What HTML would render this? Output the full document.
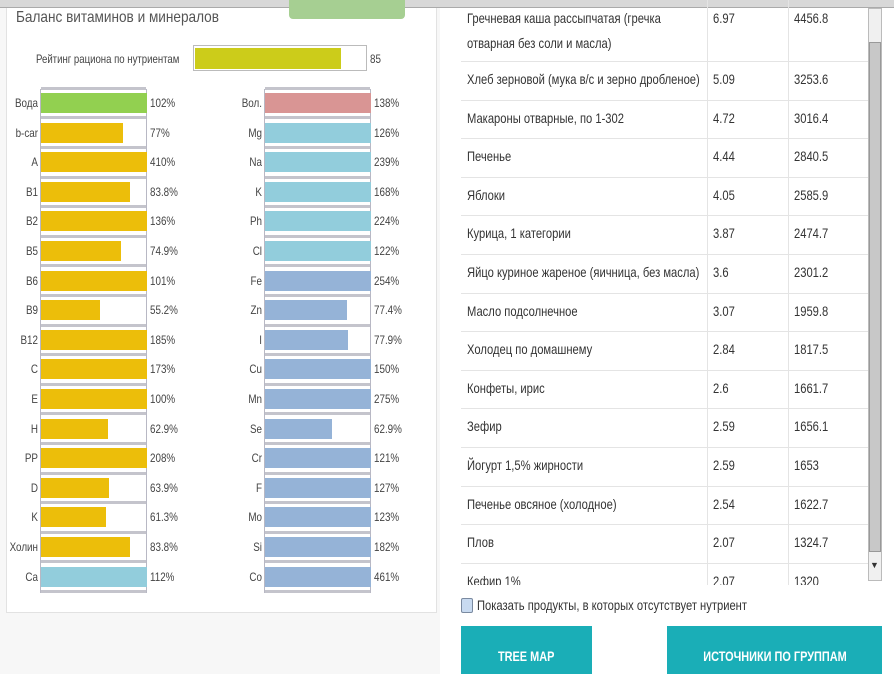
<!DOCTYPE html><html><head><meta charset="utf-8"><style>
*{margin:0;padding:0;box-sizing:border-box}
body{width:894px;height:674px;background:#fff;font-family:"Liberation Sans",sans-serif;color:#333;position:relative;overflow:hidden}
.a{position:absolute}
.lbl{position:absolute;font-size:12px;transform:scaleX(0.82);transform-origin:right;text-align:right;width:60px;color:#444}
.val{position:absolute;font-size:12px;transform:scaleX(0.82);transform-origin:left;color:#444}
.box{position:absolute;width:107px;border-left:1px solid #b8b8c4;border-right:1px solid #b8b8c4;background:#fff}
.sep{position:absolute;height:3px;background:#c4c4cc}
.fill{position:absolute;height:20px}
.td{position:absolute;font-size:14px;transform:scaleX(0.8);transform-origin:left;color:#333;white-space:nowrap}
.hl{position:absolute;left:461px;width:407px;height:1px;background:#e4e4e4}
</style></head><body>
<div class="a" style="left:0;top:0;width:440px;height:674px;background:#f7f7f7"></div>
<div class="a" style="left:6px;top:0;width:431px;height:613px;background:#fff;border:1px solid #e2e2e2"></div>
<div class="a" style="left:0;top:0;width:894px;height:8px;background:#d8d8d8;border-bottom:1px solid #aaa"></div>
<div class="a" style="left:289px;top:0;width:116px;height:19px;background:#a6cf92;border-radius:0 0 4px 4px"></div>
<div class="a" style="left:16px;top:9px;font-size:16px;transform:scaleX(0.85);transform-origin:left;color:#555;white-space:nowrap">Баланс витаминов и минералов</div>
<div class="a" style="left:36px;top:52px;font-size:12px;transform:scaleX(0.8);transform-origin:left;color:#444;white-space:nowrap">Рейтинг рациона по нутриентам</div>
<div class="a" style="left:193px;top:45px;width:174px;height:26px;border:1px solid #bbb;background:#fff"></div>
<div class="a" style="left:195px;top:48px;width:146px;height:21px;background:#cccc1a"></div>
<div class="a" style="left:370px;top:52px;font-size:12px;transform:scaleX(0.82);transform-origin:left;color:#444">85</div>
<div id="bars"></div>
<div class="hl" style="top:61px"></div>
<div id="tbl"></div>
<div class="a" style="left:707px;top:0;width:1px;height:585px;background:#e4e4e4"></div>
<div class="a" style="left:788px;top:0;width:1px;height:585px;background:#e4e4e4"></div>
<div class="a" style="left:868px;top:8px;width:14px;height:573px;background:#f0f0f0;border:1px solid #bbb"></div>
<div class="a" style="left:869px;top:42px;width:12px;height:510px;background:#c8c8c8;border:1px solid #999"></div>
<div class="a" style="left:870px;top:560px;font-size:9px;color:#333">▼</div>
<script>
var L=[["Вода","102%",106,"#92d050"],["b-car","77%",82,"#ecbe0a"],["A","410%",106,"#ecbe0a"],["B1","83.8%",89,"#ecbe0a"],["B2","136%",106,"#ecbe0a"],["B5","74.9%",80,"#ecbe0a"],["B6","101%",106,"#ecbe0a"],["B9","55.2%",59,"#ecbe0a"],["B12","185%",106,"#ecbe0a"],["C","173%",106,"#ecbe0a"],["E","100%",106,"#ecbe0a"],["H","62.9%",67,"#ecbe0a"],["PP","208%",106,"#ecbe0a"],["D","63.9%",68,"#ecbe0a"],["K","61.3%",65,"#ecbe0a"],["Холин","83.8%",89,"#ecbe0a"],["Ca","112%",106,"#92cddc"]];
var R=[["Вол.","138%",106,"#d99594"],["Mg","126%",106,"#92cddc"],["Na","239%",106,"#92cddc"],["K","168%",106,"#92cddc"],["Ph","224%",106,"#92cddc"],["Cl","122%",106,"#92cddc"],["Fe","254%",106,"#95b3d7"],["Zn","77.4%",82,"#95b3d7"],["I","77.9%",83,"#95b3d7"],["Cu","150%",106,"#95b3d7"],["Mn","275%",106,"#95b3d7"],["Se","62.9%",67,"#95b3d7"],["Cr","121%",106,"#95b3d7"],["F","127%",106,"#95b3d7"],["Mo","123%",106,"#95b3d7"],["Si","182%",106,"#95b3d7"],["Co","461%",106,"#95b3d7"]];
var h="";
function col(d,x){h+='<div class="box" style="left:'+x+'px;top:89px;height:504px"></div>';
d.forEach(function(r,i){var cy=103+i*29.6;
h+='<div class="sep" style="left:'+(x+1)+'px;width:105px;top:'+(cy-14.8-1.5)+'px"></div>';
h+='<div class="fill" style="left:'+(x+1)+'px;top:'+(cy-10)+'px;width:'+r[2]+'px;background:'+r[3]+'"></div>';
h+='<div class="lbl" style="left:'+(x-62)+'px;top:'+(cy-7)+'px">'+r[0]+'</div>';
h+='<div class="val" style="left:'+(x+110)+'px;top:'+(cy-7)+'px">'+r[1]+'</div>';});
h+='<div class="sep" style="left:'+(x+1)+'px;width:105px;top:590px"></div>';}
col(L,40);col(R,264);
document.getElementById("bars").innerHTML=h;
var T=[["Хлеб зерновой (мука в/с и зерно дробленое)","5.09","3253.6"],["Макароны отварные, по 1-302","4.72","3016.4"],["Печенье","4.44","2840.5"],["Яблоки","4.05","2585.9"],["Курица, 1 категории","3.87","2474.7"],["Яйцо куриное жареное (яичница, без масла)","3.6","2301.2"],["Масло подсолнечное","3.07","1959.8"],["Холодец по домашнему","2.84","1817.5"],["Конфеты, ирис","2.6","1661.7"],["Зефир","2.59","1656.1"],["Йогурт 1,5% жирности","2.59","1653"],["Печенье овсяное (холодное)","2.54","1622.7"],["Плов","2.07","1324.7"],["Кефир 1%","2.07","1320"]];
var t='<div class="td" style="left:467px;top:6px;line-height:25px">Гречневая каша рассыпчатая (гречка<br>отварная без соли и масла)</div><div class="td" style="left:713px;top:10px">6.97</div><div class="td" style="left:794px;top:10px">4456.8</div>';
T.forEach(function(r,i){var top=61+i*38.6;var y=top+10;
t+='<div class="td" style="left:467px;top:'+y+'px">'+r[0]+'</div><div class="td" style="left:713px;top:'+y+'px">'+r[1]+'</div><div class="td" style="left:794px;top:'+y+'px">'+r[2]+'</div>';
if(i<13)t+='<div class="hl" style="top:'+(top+38.6)+'px"></div>';});
document.getElementById("tbl").innerHTML=t;
</script>
<div class="a" style="left:440px;top:585px;width:428px;height:89px;background:#fff"></div>
<div class="a" style="left:461px;top:598px;width:12px;height:15px;border:1px solid #7a8aa0;background:#c8daf0;border-radius:2px"></div>
<div class="a" style="left:477px;top:597px;font-size:14px;transform:scaleX(0.8);transform-origin:left;color:#333;white-space:nowrap">Показать продукты, в которых отсутствует нутриент</div>
<div class="a" style="left:461px;top:626px;width:131px;height:48px;background:#1aaeb7;color:#fff;font-size:14px;font-weight:bold;text-align:center;line-height:60px"><span style="display:inline-block;transform:scaleX(0.78)">TREE MAP</span></div>
<div class="a" style="left:667px;top:626px;width:215px;height:48px;background:#1aaeb7;color:#fff;font-size:14px;font-weight:bold;text-align:center;line-height:60px;white-space:nowrap"><span style="display:inline-block;transform:scaleX(0.78)">ИСТОЧНИКИ ПО ГРУППАМ</span></div>
</body></html>
